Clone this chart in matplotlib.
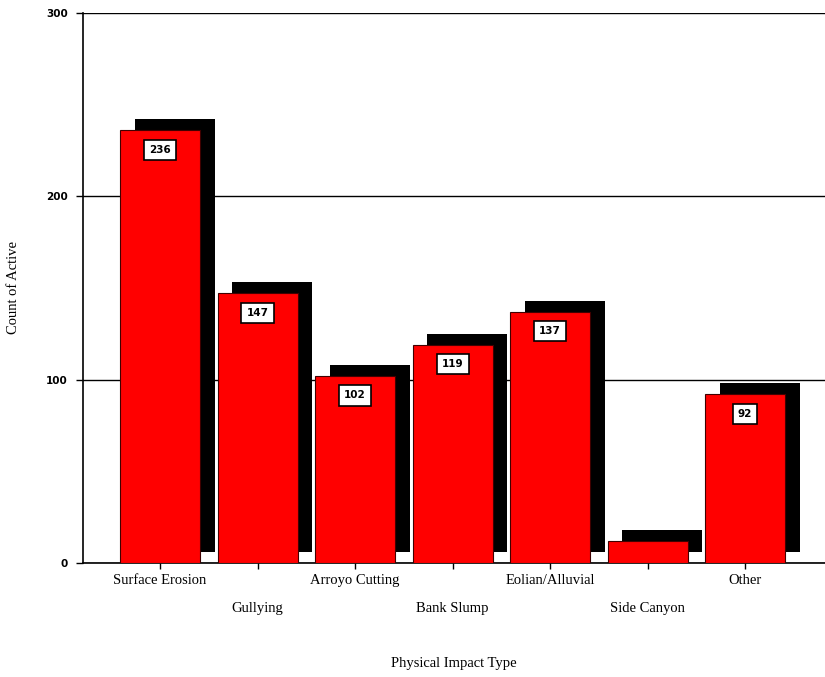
import matplotlib
matplotlib.use("Agg")
import matplotlib.pyplot as plt
import numpy as np

# ----------------------------------------------
#        physical impacts, active count
# ----------------------------------------------
categories = ["Surface Erosion", "Gullying", "Arroyo Cutting", "Bank Slump",
              "Eolian/Alluvial", "Side Canyon", "Other"]
counts = [236, 147, 102, 119, 137, 12, 92]
labelled = [True, True, True, True, True, False, True]
yticks = [0, 100, 200, 300]

BAR_W = 0.82
SHADOW_DX = 0.15
SHADOW_DY = 6

plt.rcParams['font.family'] = ['Liberation Serif', 'DejaVu Serif']

fig = plt.figure(figsize=(8.25, 6.77), dpi=100)
ax = fig.add_axes([0.1006, 0.1684, 0.8994, 0.8124])

x = np.arange(len(categories))

# drop shadows first, red bars on top
ax.bar(x + SHADOW_DX, counts, width=BAR_W, bottom=SHADOW_DY,
       color="black", zorder=2)
ax.bar(x, counts, width=BAR_W, color="#ff0000", edgecolor="#400000",
       linewidth=0.8, zorder=3)

for xi, c, show in zip(x, counts, labelled):
    if not show:
        continue
    ax.annotate(str(c), (xi, c), xytext=(0, -14), textcoords="offset points",
                ha="center", va="center", fontsize=7.5, fontweight="bold",
                family="DejaVu Sans", zorder=4,
                bbox=dict(boxstyle="square,pad=0.5", fc="white",
                          ec="black", lw=1.2))

ax.set_xlim(-0.79, 6.82)
ax.set_ylim(0, 300)
ax.set_yticks(yticks)
ax.set_yticklabels([str(t) for t in yticks], fontsize=7.5, fontweight="bold",
                   family="DejaVu Sans")
ax.yaxis.grid(True, color="black", linewidth=1.0, zorder=1)
ax.set_axisbelow(True)

ax.set_xticks(x)
# stagger the category names onto two rows
ax.set_xticklabels([c if i % 2 == 0 else "\n" + c
                    for i, c in enumerate(categories)], fontsize=10.5,
                   linespacing=2.5)
ax.tick_params(axis="x", length=4, width=1, pad=4)
ax.tick_params(axis="y", length=5, width=1, pad=6)

for side in ["top", "right"]:
    ax.spines[side].set_visible(False)
for side in ["left", "bottom"]:
    ax.spines[side].set_linewidth(1.2)

ax.set_ylabel("Count of Active", fontsize=10.5)
ax.yaxis.set_label_coords(-0.085, 0.5)
ax.set_xlabel("Physical Impact Type", fontsize=10.5, labelpad=30)

fig.savefig("out.png", dpi=100)
